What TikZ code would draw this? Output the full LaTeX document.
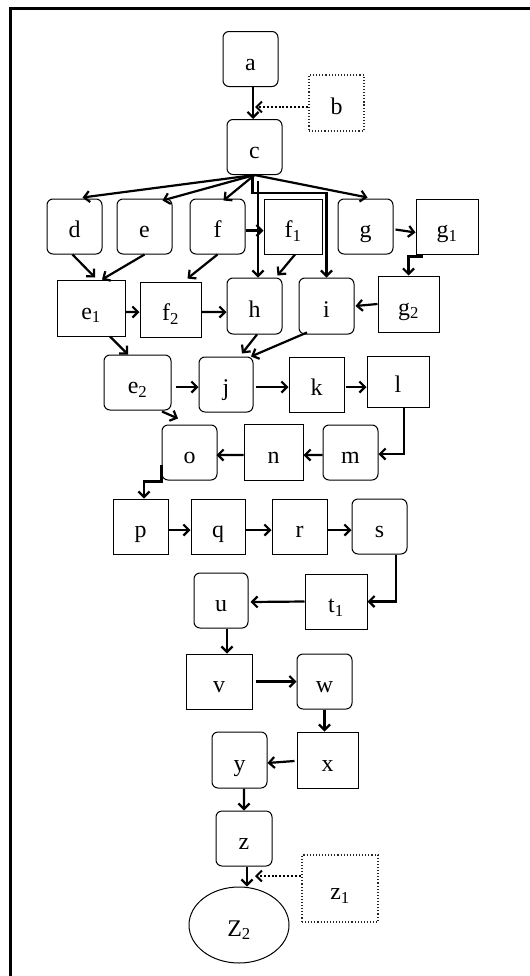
\documentclass[tikz,border=0pt]{standalone}
\usepackage{fontspec}
\setmainfont{Liberation Serif}
\usetikzlibrary{arrows.meta,calc,shapes.geometric}
\begin{document}
\begin{tikzpicture}[x=1bp,y=-1bp,
  every node/.style={font=\fontsize{24}{28}\selectfont, inner sep=0pt, text height=25bp, text depth=3bp},
  rbox/.style={draw, line width=1bp, rounded corners=6bp, minimum width=55bp, minimum height=55bp},
  sbox/.style={draw, line width=1bp, minimum width=55bp, minimum height=55bp},
  dbox/.style={draw, black!85, dotted, line width=1.1bp, text=black},
  arr/.style={line width=2.2bp, -{Straight Barb[length=5.5bp,width=11bp]}},
  dotarr/.style={dotted, line width=2bp, -{Straight Barb[length=5.5bp,width=11bp]}},
  frame/.style={line width=3bp}]
\useasboundingbox (0,0) rectangle (530,976);
\draw[frame] (10,980) -- (10,8) -- (534,8);
% nodes
\node[rbox] (a) at (250.5,59) {a};
\node[dbox, minimum width=55bp, minimum height=56bp] (b) at (336.5,103) {b};
\node[rbox] (c) at (254.5,147) {c};
\node[rbox] (d) at (74.5,226.5) {d};
\node[rbox] (e) at (144.5,226.5) {e};
\node[rbox] (f) at (217.5,226.5) {f};
\node[sbox, minimum width=58bp] (f1) at (293,226.5) {f\textsubscript{1}};
\node[rbox] (g) at (365.5,226.5) {g};
\node[sbox, minimum width=62bp] (g1) at (447,226.5) {g\textsubscript{1}};
\node[sbox, minimum width=68bp, minimum height=56bp] (e1) at (91,308) {e\textsubscript{1}};
\node[sbox, minimum width=61bp] (f2) at (170.5,309.5) {f\textsubscript{2}};
\node[rbox, minimum height=56bp] (h) at (254.5,306) {h};
\node[rbox, minimum height=56bp] (i) at (326.5,306) {i};
\node[sbox, minimum width=61bp, minimum height=56bp] (g2) at (408.5,304) {g\textsubscript{2}};
\node[rbox, minimum width=67bp] (e2) at (137.5,382.5) {e\textsubscript{2}};
\node[rbox, minimum width=54bp] (j) at (226,384.5) {j};
\node[sbox] (k) at (316.5,384.5) {k};
\node[sbox, minimum width=62bp, minimum height=51bp] (l) at (398,381.5) {l};
\node[rbox] (o) at (189.5,452.5) {o};
\node[sbox, minimum width=59bp, minimum height=56bp] (n) at (273.5,452) {n};
\node[rbox] (m) at (350.5,452.5) {m};
\node[sbox] (p) at (140.5,526.5) {p};
\node[sbox, minimum width=54bp] (q) at (218,526.5) {q};
\node[sbox] (r) at (299.5,526.5) {r};
\node[rbox] (s) at (379.5,526.5) {s};
\node[rbox, minimum width=54bp] (u) at (221,600.5) {u};
\node[sbox, minimum width=62bp] (t1) at (336,601.5) {t\textsubscript{1}};
\node[sbox, minimum width=66bp] (v) at (219,681.5) {v};
\node[rbox] (w) at (324.5,681.5) {w};
\node[rbox, minimum height=56bp] (y) at (239.5,760) {y};
\node[sbox, minimum width=61bp, minimum height=56bp] (x) at (327.5,760) {x};
\node[rbox, minimum width=56bp] (z) at (244,838.5) {z};
\node[draw, line width=1bp, ellipse, minimum width=100bp, minimum height=76bp] (Z2) at (239,925) {Z\textsubscript{2}};
\node[dbox, minimum width=76bp, minimum height=67bp] (z1) at (340,888.5) {z\textsubscript{1}};
% helper coordinates
\coordinate (ac) at (253,107);
\coordinate (zz) at (247,876);
% connectors
\draw[arr] (a.south -| ac) -- (c.north -| ac);
\draw[dotarr] (b.west |- ac) -- ($(ac)+(2,0)$);
\draw[arr] (c.south) -- ($(d.north)+(8,-1)$);
\draw[arr] (c.south) -- ($(e.north)+(18,2)$);
\draw[arr] (c.south) -- ($(f.north)+(6,2)$);
\draw[arr] (c.south) -- ($(g.north)+(2,-1)$);
\draw[arr] ($(c.south)+(3.5,6)$) -- ($(h.north)+(3.5,0)$);
\draw[arr] ($(c.south)+(-2,0)$) -- ++(0,18) -| (i.north);
\draw[arr] ($(f.east)+(0,4)$) -- ($(f1.west)+(0,4)$);
\draw[arr] ($(g.east)+(2,3)$) -- ($(g1.west)+(0,6)$);
\draw[arr] ($(g1.south west)+(6,0)$) -- ++(0,2) -| (g2.north);
\draw[arr] ($(d.south)+(-2,0)$) -- ($(e1.north)+(4,-2)$);
\draw[arr] (e.south) -- ($(e1.north)+(11,0)$);
\draw[arr] (f.south) -- ($(f2.north)+(17,-3)$);
\draw[arr] ($(f1.south)+(2,0)$) -- ($(h.north)+(23,-2)$);
\draw[arr] (g2.west) -- ($(i.east)+(1,0)$);
\draw[arr] ($(e1.east)+(0,4)$) -- ($(f2.west)+(0,2.5)$);
\draw[arr] ($(f2.east)+(0,2.5)$) -- ($(h.west)+(0,6)$);
\draw[arr] ($(e1.south)+(19,0)$) -- ($(e2.north)+(-9.5,0)$);
\draw[arr] ($(h.south)+(2.5,0)$) -- ($(j.north)+(16,-3)$);
\draw[arr] ($(i.south)+(-19.5,-2)$) -- ($(j.north)+(25,0)$);
\draw[arr] ($(e2.east)+(4,4.5)$) -- ($(j.west)+(0,2.5)$);
\draw[arr] ($(j.east)+(2,2.5)$) -- ($(k.west)+(0,2.5)$);
\draw[arr] ($(k.east)+(1,2.5)$) -- ($(l.west)+(0,5.5)$);
\draw[arr] ($(e2.south)+(24.5,1)$) -- ($(o.north)+(-11.5,-6)$);
\draw[arr] ($(l.south)+(6,0)$) |- ($(m.east)+(0,1.5)$);
\draw[arr] ($(m.west)+(0,2.5)$) -- ($(n.east)+(0,3)$);
\draw[arr] ($(n.west)+(0,3)$) -- ($(o.west)+(55,2.5)$);
\draw[arr] ($(o.west)+(0,12)$) -- ++(0,17) -| ($(p.north)+(3.5,0)$);
\draw[arr] ($(p.east)+(0,3.5)$) -- ($(q.west)+(0,3.5)$);
\draw[arr] ($(q.east)+(0,3.5)$) -- ($(r.west)+(0,3.5)$);
\draw[arr] ($(r.east)+(0,3.5)$) -- ($(s.west)+(0,3.5)$);
\draw[arr] ($(s.south)+(16.5,0)$) |- (t1.east);
\draw[arr] (t1.west) -- ($(u.east)+(2,1.5)$);
\draw[arr] ($(u.south)+(6,0)$) -- ($(v.north)+(8,0)$);
\draw[arr] ($(v.east)+(3,0)$) -- (w.west);
\draw[arr] (w.south) -- (w.south |- x.north);
\draw[arr] ($(x.west)+(-2,1)$) -- ($(y.east)+(0,3)$);
\draw[arr] ($(y.south)+(4.5,0)$) -- (z.north);
\draw[arr] ($(z.south)+(3,0)$) -- ($(Z2.north)+(8,0)$);
\draw[dotarr] (z1.west |- zz) -- ($(zz)+(8,0)$);
\end{tikzpicture}
\end{document}
